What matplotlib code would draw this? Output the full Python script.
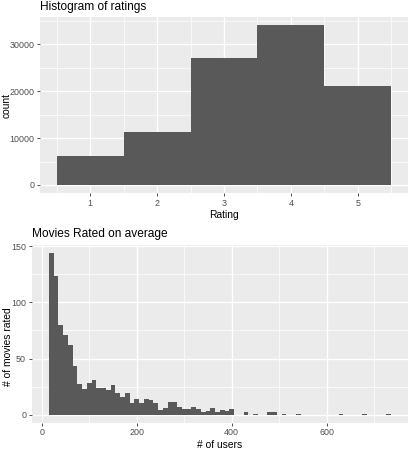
import numpy as np
import matplotlib
matplotlib.use('Agg')
import matplotlib.pyplot as plt

plt.rcParams['font.family'] = ['Liberation Sans', 'DejaVu Sans']

# Histogram of ratings (one bar per rating value)
ratings = [1, 2, 3, 4, 5]
rating_counts = [6100, 11400, 27100, 34100, 21100]

# Movies rated on average: bins of width 10 from 15 to 735
user_bin_start = 15
user_bin_width = 10
movie_counts = [144, 124, 80, 71, 62, 43, 27, 23, 28, 31,
                24, 24, 22, 26, 19, 16, 19, 10, 14, 10,
                14, 13, 10, 4, 6, 11, 11, 7, 5, 5,
                7, 5, 2, 3, 6, 2, 4, 3, 5, 0,
                0, 2, 0, 1, 0, 0, 2, 2, 0, 1,
                0, 0, 1, 0, 0, 0, 0, 0, 0, 0,
                0, 1, 0, 0, 0, 0, 1, 0, 0, 0,
                0, 1]

W, H = 412, 458
BAR = '#595959'
PANEL = '#EBEBEB'
TXT = '#4D4D4D'


def px_axes(fig, left, top, right, bottom):
    return fig.add_axes([left / W, 1 - bottom / H, (right - left) / W, (bottom - top) / H])


def gg_style(ax, xmajor, xminor, ymajor, yminor):
    ax.set_facecolor(PANEL)
    for s in ax.spines.values():
        s.set_visible(False)
    ax.set_xticks(xmajor)
    ax.set_xticks(xminor, minor=True)
    ax.set_yticks(ymajor)
    ax.set_yticks(yminor, minor=True)
    ax.grid(True, which='major', color='white', lw=1.0)
    ax.grid(True, which='minor', color='white', lw=0.5)
    ax.set_axisbelow(True)
    ax.tick_params(which='major', length=2.5, width=0.6, color='#333333',
                   labelsize=6.4, labelcolor=TXT, pad=1.5)
    ax.tick_params(which='minor', length=0)


fig = plt.figure(figsize=(W / 100, H / 100), dpi=100)

# --- top panel
ax1 = px_axes(fig, 40, 17, 408, 193)
ax1.bar(ratings, rating_counts, width=1.0, color=BAR, zorder=2)
top = max(rating_counts)
ax1.set_xlim(0.25, 5.75)
ax1.set_ylim(-0.05 * top, 1.05 * top)
gg_style(ax1, ratings, [0.5, 1.5, 2.5, 3.5, 4.5, 5.5],
         [0, 10000, 20000, 30000], [5000, 15000, 25000, 35000])
ax1.set_xticklabels([str(r) for r in ratings])
ax1.set_xlabel('Rating', fontsize=7.4, labelpad=2)
fig.text(7 / W, 1 - 106 / H, 'count', fontsize=7.4, rotation=90,
         ha='center', va='center')
fig.text(40 / W, 1 - 7 / H, 'Histogram of ratings', fontsize=8.6,
         ha='left', va='center')

# --- bottom panel
ax2 = px_axes(fig, 31.7, 245, 408, 422.7)
edges = user_bin_start + user_bin_width * np.arange(len(movie_counts))
ax2.bar(edges, movie_counts, width=user_bin_width, align='edge', color=BAR, zorder=2)
lo = user_bin_start
hi = user_bin_start + user_bin_width * len(movie_counts)
pad = 0.05 * (hi - lo)
ax2.set_xlim(lo - pad, hi + pad)
mx = max(movie_counts)
ax2.set_ylim(-0.05 * mx, 1.05 * mx)
gg_style(ax2, [0, 200, 400, 600], [100, 300, 500, 700],
         [0, 50, 100, 150], [25, 75, 125])
ax2.set_xlabel('# of users', fontsize=7.4, labelpad=2)
fig.text(8 / W, 1 - 347 / H, '# of movies rated', fontsize=7.4, rotation=90,
         ha='center', va='center')
fig.text(31.7 / W, 1 - 234 / H, 'Movies Rated on average', fontsize=8.6,
         ha='left', va='center')

fig.savefig('out.png', dpi=100, facecolor='white')
